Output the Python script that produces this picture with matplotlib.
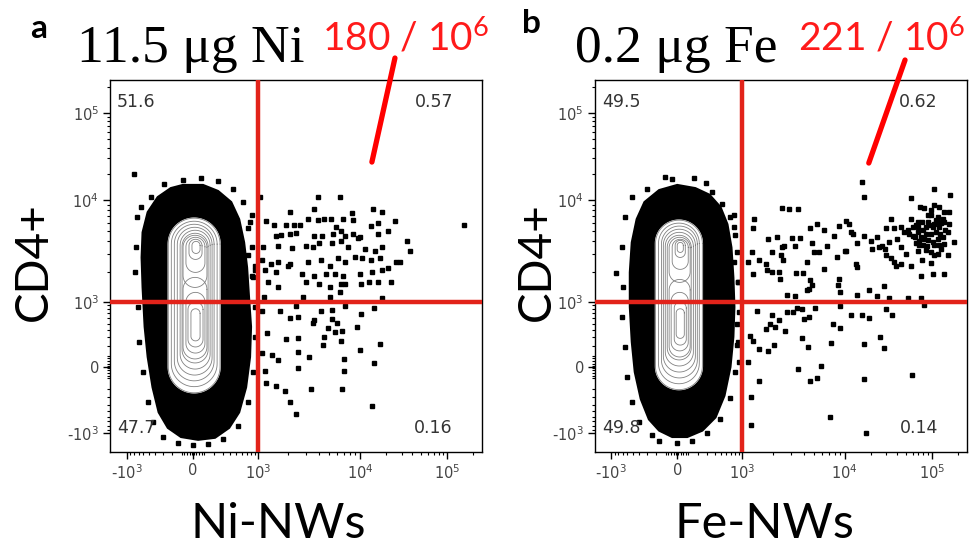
import numpy as np
import matplotlib
matplotlib.use("Agg")
import matplotlib.pyplot as plt

plt.rcParams["mathtext.default"] = "regular"

RED_GATE = "#e2231a"
RED_TEXT = "#ff1a1a"
SANS = "Lato"

# quadrant percentages (UL, UR, LL, LR)
NI_QUADS = ["51.6", "0.57", "47.7", "0.16"]
FE_QUADS = ["49.5", "0.62", "49.8", "0.14"]
NI_COUNT = "180 / 10$^{6}$"
FE_COUNT = "221 / 10$^{6}$"

# outlier events in the Ni panel (NW signal, CD4 signal)
NI_EVENTS = [
    (3900, 10700), (6400, 10700), (1050, 10700), (2100, 7700), (3600, 8100),
    (14200, 8100), (17700, 7700), (8300, 7400), (1190, 6200), (1450, 5700),
    (1900, 5700), (2300, 5700), (2600, 5700), (3100, 6500), (3900, 6400),
    (4500, 6500), (5200, 6500), (5900, 5500), (6900, 6600), (8600, 6400),
    (13400, 5600), (16200, 6000), (25000, 6200), (158000, 5700), (1500, 4500),
    (1700, 4600), (2100, 4700), (2400, 4800), (3600, 4500), (4300, 4500),
    (5500, 4700), (6600, 5000), (7100, 4500), (8600, 4700), (10000, 4400),
    (16200, 4700), (21200, 5000), (35000, 4000), (38000, 3200), (1130, 3500),
    (1600, 3600), (2200, 3400), (3000, 3600), (3500, 3500), (4000, 3800),
    (5300, 3800), (6600, 4000), (7700, 3500), (9600, 4300), (11500, 3300),
    (15000, 3200), (17700, 3500), (29000, 2500), (1090, 2600), (1360, 2400),
    (1600, 2500), (2100, 2400), (3100, 2500), (4200, 2600), (5100, 2300),
    (6100, 2700), (7100, 2500), (8900, 2800), (10600, 2700), (13400, 2600),
    (17000, 2700), (26000, 2500), (900, 2100), (1170, 2100), (1500, 2000),
    (2000, 2300), (2700, 1900), (3000, 1600), (3600, 1800), (4700, 1900),
    (5700, 1900), (6900, 1800), (10000, 1900), (13600, 2000), (17700, 2100),
    (21000, 2200), (1260, 1600), (1600, 1400), (4000, 1500), (5100, 1400),
    (6500, 1500), (7100, 1500), (10400, 1500), (12700, 1600), (16000, 1600),
    (23000, 1600), (1150, 1130), (2800, 1130), (5100, 1130), (17700, 1100),
    (6400, 1260), (1100, 760), (1640, 760), (2400, 870), (2500, 630),
    (4200, 760), (5300, 780), (7100, 870), (10400, 680), (14600, 820),
    (2100, 600), (3600, 560), (3500, 515), (5400, 585), (6000, 505),
    (4900, 425), (5700, 375), (6700, 385), (9350, 440), (1220, 350),
    (1900, 280), (2500, 295), (4500, 300), (4400, 210), (6600, 250),
    (17000, 215), (10000, 158), (1090, 125), (1380, 108), (1580, 63),
    (2500, 140), (3200, 93), (7000, 72), (7000, -36), (14600, 33),
    (1170, -36), (2500, -6), (1190, -145), (1520, -175), (1870, -225),
    (3350, -205), (6700, -205), (2060, -360), (2400, -550), (13600, -425),
    (920, 2300), (830, 1800), (740, 2900), (725, 5300), (830, 7100),
]

# outlier events in the Fe panel
FE_EVENTS = [
    (16000, 16200), (16700, 10900), (57000, 10500), (105000, 13300), (160000, 11400),
    (2450, 8300), (2900, 8100), (3500, 8100), (73000, 8600), (81000, 8300),
    (106000, 8900), (121000, 8600), (138000, 7700), (158000, 7700), (1310, 6600),
    (10300, 6200), (11200, 5900), (34400, 6600), (57000, 6600), (97000, 7100),
    (116000, 6900), (1290, 5400), (4600, 5300), (5400, 5800), (6300, 5100),
    (8800, 5600), (11700, 4900), (12600, 4700), (16700, 4500), (23700, 4400),
    (29600, 5300), (36900, 5300), (44000, 5500), (48000, 4900), (52600, 5100),
    (60000, 4500), (68500, 5500), (78000, 6100), (85000, 4700), (93000, 5700),
    (106000, 5900), (121000, 5500), (138000, 6100), (151000, 4900), (158000, 5900),
    (1810, 4150), (2200, 4400), (2450, 3500), (2600, 3600), (3100, 4300),
    (3300, 3600), (3700, 4300), (4800, 3800), (6800, 3600), (7900, 4500),
    (10300, 3200), (14000, 3800), (19900, 4000), (20800, 3300), (24800, 3500),
    (27100, 3600), (28800, 3300), (32400, 3900), (40300, 4200), (44000, 3500),
    (65500, 3800), (71500, 4000), (81500, 4200), (89000, 3600), (102000, 3900),
    (116000, 4200), (133000, 4400), (177000, 3900), (68500, 3200), (97000, 3100),
    (127000, 3300), (1250, 3100), (1450, 2600), (1700, 2400), (1950, 3100),
    (2400, 2900), (2500, 2600), (4300, 2500), (5000, 3100), (5700, 3100),
    (8500, 2800), (10000, 3200), (13400, 2400), (29600, 2900), (33800, 2700),
    (36900, 2500), (38500, 2300), (44000, 2400), (50000, 3000), (57000, 2300),
    (78000, 2600), (97000, 2450), (116000, 3000), (151000, 2900), (1150, 2500),
    (1270, 1900), (1770, 2060), (1950, 1980), (2300, 1980), (2360, 1710),
    (3400, 1950), (3900, 1950), (6300, 2140), (14000, 2250), (75000, 1800),
    (102000, 1900), (138000, 1900), (4640, 1640), (4800, 1490), (8800, 1680),
    (8600, 1490), (2740, 1190), (3300, 1150), (4300, 1310), (4470, 1360),
    (9100, 1260), (13700, 1190), (19000, 1310), (23700, 1150), (28300, 1450),
    (32400, 1090), (52600, 1110), (75000, 1110), (81500, 915), (1390, 765),
    (1950, 665), (2780, 740), (3180, 740), (3440, 825), (3860, 805),
    (4000, 580), (4540, 630), (5200, 825), (9100, 870), (11700, 665),
    (16000, 665), (19000, 610), (29600, 805), (35300, 665), (1720, 415),
    (1880, 490), (2110, 435), (2320, 565), (2640, 385), (7740, 490),
    (9100, 425), (1200, 320), (1270, 255), (1450, 165), (1810, 148),
    (2070, 213), (3860, 288), (4400, 185), (7400, 235), (16700, 218),
    (25500, 307), (28300, 176), (1130, 48), (1450, -124), (3520, -18),
    (4640, -124), (5400, -96), (5900, 9), (16700, -107), (58900, -71),
    (1220, -295), (1220, -780), (7180, -612), (17700, -990),
    (89300, 7130), (111000, 6370), (127000, 5910), (68500, 4890), (78100, 5080),
    (97500, 4720), (111000, 4890), (125000, 4720), (143000, 5080), (74800, 4370),
    (89300, 4050), (106000, 3620), (121000, 3620), (138000, 3760), (78100, 3620),
    (64600, 4370), (54500, 4720), (85300, 5470), (102000, 5470), (116000, 6120),
    (133000, 6610), (97500, 7940), (89300, 6120), (68500, 6120), (60000, 5470),
    (71500, 3620), (85300, 3230), (106000, 2890), (65500, 5690),
    (760, 7130), (805, 4540), (780, 2470), (885, 1570), (850, 490), (900, 45), (850, 208),
]

# outline of the dense event cloud
NI_BLOB = [
    (-90, 14900), (90, 14900), (243, 12700), (415, 9550), (548, 6500), (645, 3870),
    (710, 2200), (755, 1120), (805, 445), (780, 90), (688, -188), (548, -520),
    (385, -855), (209, -1120), (45, -1175), (-107, -1100), (-240, -855), (-352, -520),
    (-440, -188), (-520, 90), (-575, 445), (-615, 1400), (-635, 2760), (-615, 4850),
    (-520, 7620), (-365, 10800), (-208, 13700),
]
FE_BLOB = [
    (0, 14900), (168, 13700), (330, 11500), (495, 8530), (624, 5810), (710, 3460),
    (755, 1760), (780, 858), (755, 303), (688, 0), (566, -280), (415, -615),
    (243, -930), (90, -1100), (-44, -1100), (-165, -930), (-275, -655), (-380, -320),
    (-470, -44), (-520, 243), (-555, 858), (-555, 1970), (-520, 3870), (-440, 6510),
    (-330, 9550), (-165, 13000),
]

# sparse events on the rim of the cloud
NI_FRINGE = [
    (-805, 19900), (-730, 6810), (-755, 3460), (-780, 1970), (-710, 858), (-690, 243),
    (-615, -45), (-520, -365), (-440, -720), (-300, -1100), (-138, -1260), (0, -1320),
    (138, -1290), (303, -1150), (529, -800), (732, -365), (858, -45), (910, 303),
    (910, 858), (858, 1760), (830, 3460), (780, 6080), (624, 9550), (445, 13400),
    (243, 16500), (72, 17800), (-90, 17000), (-280, 15300), (-470, 10800), (-655, 8530),
]
FE_FRINGE = [
    (-107, 18400), (158, 17900), (280, 15700), (-300, 13400), (-520, 10800), (-650, 6810),
    (-720, 3460), (-860, 1930), (-700, 1400), (-720, 624), (-650, 188), (-615, -90),
    (-520, -365), (-410, -720), (-240, -1050), (-165, -1200), (0, -1260), (138, -1200),
    (303, -1000), (480, -655), (670, -303), (805, -45), (885, 243), (910, 732),
    (885, 1570), (858, 3090), (780, 5430), (688, 6810), (529, 9150), (370, 12400),
    (-45, 17400),
]

# contour levels as (x_low, x_high, y_low, y_high)
NI_CONTOURS = [
    (-235, 266, -247, 6660), (-202, 232, -181, 6220), (-171, 199, -124, 5810),
    (-142, 178, -71, 5430), (-115, 158, -18, 5080), (-97, 138, 36, 4750),
    (-88, 127, 1400, 4540), (-62, 108, 1970, 4340), (-35, 81, 2640, 4150), (-9, 63, 3020, 3960),
    (-88, 127, 72, 1760), (-62, 108, 127, 1250), (-44, 90, 188, 1000), (-18, 63, 255, 810),
]
FE_CONTOURS = [
    (-202, 243, -212, 6370), (-171, 209, -152, 5960), (-142, 188, -97, 5580),
    (-124, 168, -44, 5200), (-106, 148, 9, 4850), (-88, 127, 63, 4540),
    (-71, 117, 1570, 4340), (-44, 99, 2110, 4150), (-18, 72, 2760, 4050), (0, 54, 3090, 3870),
    (-71, 117, 90, 1680), (-53, 99, 148, 1250), (-26, 81, 208, 1000), (-9, 63, 285, 810),
]

# biexponential-like display transform, display units are roughly pixels
W = 300.0
KNOT_VALUES = np.array([-1e5, -1e4, -1e3, 0, 1e3, 1e4, 1e5, 1e6])
KNOT_DISPLAY = np.array([-266, -166, -66, 0, 65, 167, 254, 341], dtype=float)
S_KNOTS = np.arcsinh(KNOT_VALUES / W)


def fwd(v):
    return np.interp(np.arcsinh(np.asarray(v, dtype=float) / W), S_KNOTS, KNOT_DISPLAY)


def inv(d):
    return W * np.sinh(np.interp(np.asarray(d, dtype=float), KNOT_DISPLAY, S_KNOTS))


def capsule(x0, x1, y0, y1, n=40):
    a, b = fwd([x0, x1])
    c, e = fwd([y0, y1])
    r = (b - a) / 2
    cx = (a + b) / 2
    ry = min(r, (e - c) / 2)
    t1 = np.linspace(0, np.pi, n)
    t2 = np.linspace(np.pi, 2 * np.pi, n)
    px = np.concatenate([cx + r * np.cos(t1), cx + r * np.cos(t2), [cx + r]])
    py = np.concatenate([e - ry + ry * np.sin(t1), c + ry + ry * np.sin(t2), [e - ry]])
    return inv(px), inv(py)


MAJOR = [-1e3, 0, 1e3, 1e4, 1e5]
MAJOR_LABELS = ["-$10^{3}$", "0", "$10^{3}$", "$10^{4}$", "$10^{5}$"]
MINOR = (list(range(-900, 0, 100)) + list(range(100, 1000, 100))
         + [k * 10 ** e for e in (3, 4) for k in range(2, 10)] + [2e5]
         + [-80, -55, -30, -10, 10, 30, 55, 80])


def draw_panel(ax, events, blob, fringe, contours, quads, xlo):
    ax.set_xscale("function", functions=(fwd, inv))
    ax.set_yscale("function", functions=(fwd, inv))

    bx, by = np.array(blob).T
    ax.fill(bx, by, color="black", lw=1.5, zorder=1)
    fx, fy = np.array(fringe).T
    ax.plot(fx, fy, "s", color="black", ms=2.5, zorder=1)

    for i, bounds in enumerate(contours):
        cx, cy = capsule(*bounds)
        if i == 0:
            ax.fill(cx, cy, color="white", zorder=2)
        ax.plot(cx, cy, color="#808080", lw=0.6, zorder=3)

    ex, ey = np.array(events).T
    ax.plot(ex, ey, "s", color="black", ms=2.5, zorder=2)

    ax.axvline(1e3, color=RED_GATE, lw=3.2, zorder=4)
    ax.axhline(1e3, color=RED_GATE, lw=3.2, zorder=4)

    ax.set_xlim(inv(xlo), inv(289))
    ax.set_ylim(inv(-85), inv(287))

    for axis in (ax.xaxis, ax.yaxis):
        axis.set_ticks(MAJOR)
        axis.set_ticklabels(MAJOR_LABELS)
        axis.set_ticks(MINOR, minor=True)
    ax.tick_params(which="major", direction="out", length=5, width=1,
                   labelsize=10.5, labelcolor="#444444", pad=3)
    ax.tick_params(which="minor", direction="out", length=2.5, width=0.8)
    for s in ax.spines.values():
        s.set_linewidth(1.0)

    kw = dict(transform=ax.transAxes, fontsize=12.5, color="#333333", va="center", zorder=5)
    ax.text(0.019, 0.941, quads[0], ha="left", **kw)
    ax.text(0.922, 0.941, quads[1], ha="right", **kw)
    ax.text(0.019, 0.0645, quads[2], ha="left", **kw)
    ax.text(0.922, 0.0645, quads[3], ha="right", **kw)


fig = plt.figure(figsize=(9.74, 5.51), dpi=100)
ax_a = fig.add_axes([0.11294, 0.17967, 0.38193, 0.67514])
ax_b = fig.add_axes([0.61088, 0.17967, 0.38193, 0.67514])

draw_panel(ax_a, NI_EVENTS, NI_BLOB, NI_FRINGE, NI_CONTOURS, NI_QUADS, -83)
draw_panel(ax_b, FE_EVENTS, FE_BLOB, FE_FRINGE, FE_CONTOURS, FE_QUADS, -82)

fig.text(0.031, 0.931, "a", fontsize=24, fontweight="bold", family=SANS, va="baseline")
fig.text(0.079, 0.8875, "11.5 \u03bcg Ni", fontsize=38.5, family="Liberation Serif", va="baseline")
fig.text(0.3306, 0.909, NI_COUNT, fontsize=28, family=SANS, color=RED_TEXT, va="baseline")
fig.text(0.536, 0.940, "b", fontsize=24, fontweight="bold", family=SANS, va="baseline")
fig.text(0.590, 0.8875, "0.2 \u03bcg Fe", fontsize=38.5, family="Liberation Serif", va="baseline")
fig.text(0.819, 0.909, FE_COUNT, fontsize=28, family=SANS, color=RED_TEXT, va="baseline")

ax_a.annotate("", xy=(13700, 27300), xytext=(0.4055, 0.8947), textcoords="figure fraction",
              arrowprops=dict(arrowstyle="-", color="red", lw=3.8, shrinkA=0, shrinkB=0),
              annotation_clip=False)
ax_b.annotate("", xy=(18900, 26600), xytext=(0.9292, 0.8911), textcoords="figure fraction",
              arrowprops=dict(arrowstyle="-", color="red", lw=3.8, shrinkA=0, shrinkB=0),
              annotation_clip=False)

fig.text(0.035, 0.5245, "CD4+", fontsize=33, family=SANS, rotation=90, ha="center", va="center")
fig.text(0.551, 0.5245, "CD4+", fontsize=33, family=SANS, rotation=90, ha="center", va="center")
fig.text(0.2854, 0.0236, "Ni-NWs", fontsize=35, family=SANS, ha="center", va="baseline")
fig.text(0.7844, 0.0236, "Fe-NWs", fontsize=35, family=SANS, ha="center", va="baseline")

fig.savefig("out.png", dpi=100)
plt.close(fig)
